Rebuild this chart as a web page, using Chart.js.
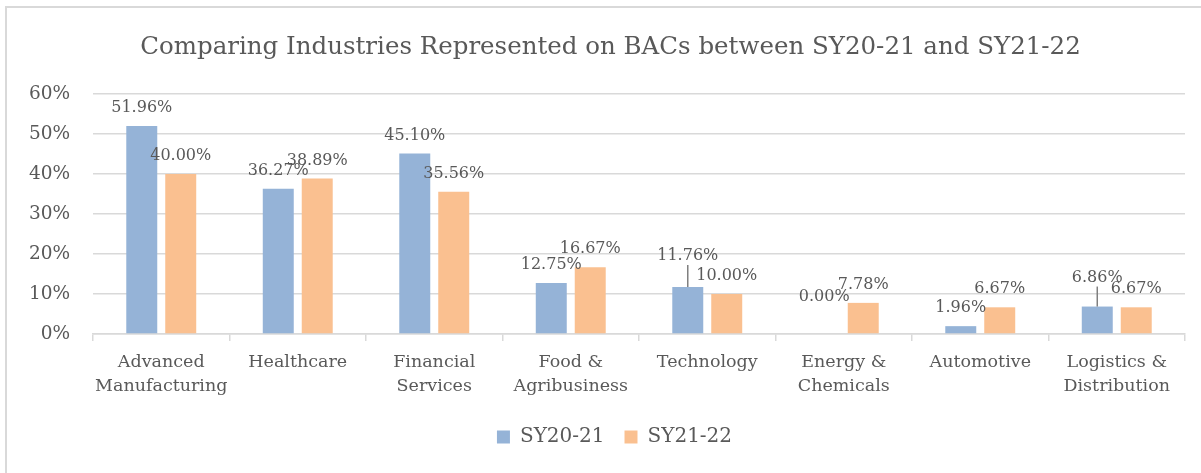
<!DOCTYPE html>
<html>
<head>
<meta charset="utf-8">
<script src="https://cdn.jsdelivr.net/npm/chart.js@4.4.0/dist/chart.umd.min.js"></script>
<style>
  html, body { margin: 0; padding: 0; background: #fff; }
  .wrap { position: relative; width: 1201px; height: 473px; overflow: hidden; }
  .frame { position: absolute; left: 5px; top: 6px; width: 1400px; height: 700px;
           border-left: 2px solid #d9d9d9; border-top: 2px solid #d9d9d9; }
  #myChart { position: absolute; left: 0; top: 0; }
</style>
</head>
<body>
<div class="wrap">
  <div class="frame"></div>
  <canvas id="myChart" width="1201" height="473"></canvas>
</div>
<script>
// categories and values
var industries = [
  ['Advanced', 'Manufacturing'], 'Healthcare', ['Financial', 'Services'],
  ['Food &', 'Agribusiness'], 'Technology', ['Energy &', 'Chemicals'],
  'Automotive', ['Logistics &', 'Distribution']
];
var sy2021 = [51.96, 36.27, 45.10, 12.75, 11.76, 0.00, 1.96, 6.86];
var sy2122 = [40.00, 38.89, 35.56, 16.67, 10.00, 7.78, 6.67, 6.67];

var textColor = '#595959';
var gridColor = '#d9d9d9';
var serif = 'DejaVu Serif';

// value labels above the bars, a few lifted higher with a leader line
var barLabels = {
  id: 'barLabels',
  afterDatasetsDraw: function(chart, args, opts) {
    var ctx = chart.ctx;
    ctx.save();
    ctx.font = opts.size + 'px "' + serif + '"';
    ctx.fillStyle = textColor;
    ctx.textAlign = 'center';
    ctx.textBaseline = 'middle';
    chart.data.datasets.forEach(function(ds, di) {
      var meta = chart.getDatasetMeta(di);
      meta.data.forEach(function(bar, i) {
        var key = di + ':' + i;
        var extra = opts.lift[key] || 0;
        var y = bar.y - opts.offset - extra;
        if (opts.leader[key]) {
          ctx.strokeStyle = '#7f7f7f';
          ctx.lineWidth = 1.5;
          ctx.beginPath();
          ctx.moveTo(bar.x, bar.y);
          ctx.lineTo(bar.x, y + 9);
          ctx.stroke();
        }
        ctx.fillText(ds.data[i].toFixed(2) + '%', bar.x, y);
      });
    });
    ctx.restore();
  }
};

// title and legend sit a little right of the canvas centre, as in Excel
var centreOnPlot = {
  id: 'centreOnPlot',
  afterLayout: function(chart, args, opts) {
    if (chart.titleBlock) {
      chart.titleBlock.left += opts.title;
      chart.titleBlock.right += opts.title;
    }
    if (chart.legend) {
      chart.legend.left += opts.legend;
      chart.legend.right += opts.legend;
    }
  }
};

var ctx = document.getElementById('myChart').getContext('2d');
var chart = new Chart(ctx, {
  type: 'bar',
  data: {
    labels: industries,
    datasets: [{
      label: 'SY20-21',
      backgroundColor: '#95b3d7',
      data: sy2021
    }, {
      label: 'SY21-22',
      backgroundColor: '#fac090',
      data: sy2122
    }]
  },
  plugins: [barLabels, centreOnPlot],
  options: {
    responsive: false,
    animation: false,
    categoryPercentage: 0.571,
    barPercentage: 0.795,
    layout: { padding: { left: 0, right: 16, top: 0, bottom: 16 } },
    scales: {
      x: {
        afterFit: function(s) { s.height = 73; },
        grid: {
          offset: true,
          drawOnChartArea: false,
          color: gridColor,
          lineWidth: 1.5,
          tickLength: 7
        },
        border: { color: gridColor, width: 1.5 },
        ticks: {
          color: textColor,
          font: { family: serif, size: 17.5, lineHeight: 1.37 },
          padding: 9,
          maxRotation: 0,
          autoSkip: false
        }
      },
      y: {
        min: 0,
        max: 60,
        afterFit: function(s) { s.width = 93; },
        grid: { color: gridColor, lineWidth: 1.5, drawTicks: false },
        border: { display: false },
        ticks: {
          stepSize: 10,
          padding: 23,
          color: textColor,
          font: { family: serif, size: 18.5 },
          callback: function(v) { return v + '%'; }
        }
      }
    },
    plugins: {
      title: {
        display: true,
        text: 'Comparing Industries Represented on BACs between SY20-21 and SY21-22',
        color: textColor,
        font: { family: serif, size: 24.5, weight: 'normal' },
        padding: { top: 33, bottom: 31.5 }
      },
      legend: {
        position: 'bottom',
        labels: {
          color: textColor,
          font: { family: serif, size: 20 },
          boxWidth: 13,
          boxHeight: 13,
          padding: 20
        }
      },
      tooltip: { enabled: false },
      centreOnPlot: { title: 18, legend: 22 },
      barLabels: {
        size: 16,
        offset: 18,
        lift: { '0:4': 13, '0:5': 19, '0:7': 11 },
        leader: { '0:4': true, '0:7': true }
      }
    }
  }
});
</script>
</body>
</html>
